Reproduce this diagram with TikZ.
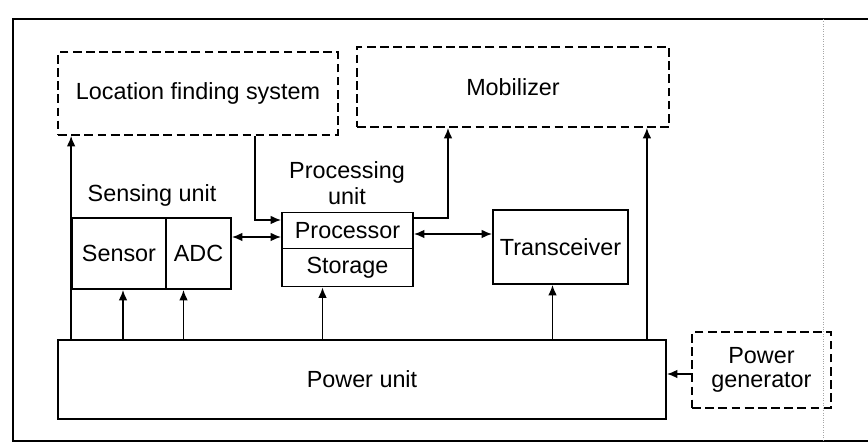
\documentclass[tikz,border=0pt]{standalone}
\usepackage{fontspec}
\setmainfont{Liberation Sans}
\usetikzlibrary{arrows.meta,positioning}

\begin{document}
\begin{tikzpicture}[
  unit/.style={rectangle, draw, line width=1pt, inner sep=2pt,
    font=\fontsize{13.3}{15}\selectfont},
  ext/.style={unit, dash pattern=on 5pt off 2.5pt},
  lbl/.style={font=\fontsize{13.3}{15}\selectfont, align=center, inner sep=0pt},
  arr/.style={-{Latex[length=6pt,width=5pt]}, line width=1pt},
  darr/.style={{Latex[length=6pt,width=5pt]}-{Latex[length=6pt,width=5pt]}, line width=1pt},
]
\useasboundingbox (0,0) rectangle (17.36,8.96);

% frame
\draw[line width=1.2pt] (17.36,8.58) -- (0.26,8.58) -- (0.26,0.14) -- (17.36,0.14);
\draw[black!35, densely dotted, line width=0.4pt] (16.46,8.58) -- (16.46,0.14);

% OUTSIDE UNITS (dashed)
\node[ext, minimum width=5.6cm, minimum height=1.66cm] (loc) at (3.96,7.09)
  {Location finding system};
\node[ext, minimum width=6.24cm, minimum height=1.6cm] (mob) at (10.26,7.22)
  {Mobilizer};
\node[ext, minimum width=2.78cm, minimum height=1.52cm, align=center,
  font=\fontsize{13.3}{14}\selectfont] (gen) at (15.23,1.56)
  {Power\\generator};

% SENSING UNIT
\node[unit, minimum width=1.88cm, minimum height=1.42cm] (sensor) at (2.38,3.89) {Sensor};
\node[unit, minimum width=1.3cm, minimum height=1.42cm, right=-1pt of sensor] (adc) {ADC};
\node[lbl] (senslbl) at (3.04,5.06) {Sensing unit};

% PROCESSING UNIT
\node[unit, minimum width=2.62cm, minimum height=0.72cm] (proc) at (6.95,4.35) {Processor};
\node[unit, minimum width=2.62cm, minimum height=0.76cm, below=-1pt of proc] (stor) {Storage};
\node[lbl] (proclbl) at (6.94,5.3) {Processing\\unit};

% TRANSCEIVER + POWER
\node[unit, minimum width=2.7cm, minimum height=1.48cm] (trans) at (11.21,4.02) {Transceiver};
\node[unit, minimum width=12.16cm, minimum height=1.58cm] (power) at (7.24,1.37) {Power unit};

% helper points
\coordinate (pa) at ([yshift=-1.3mm]proc.west);
\coordinate (pt) at ([yshift=-0.7mm]proc.east);
\coordinate (pg) at ([yshift=-0.8mm]gen.west);

% ARROWS
\draw[arr] (power.north -| sensor.west) -- (loc.south -| sensor.west);
\draw[arr] ([xshift=0.8mm]power.north -| sensor.south) -- ([xshift=0.8mm]sensor.south);
\draw[arr] ([xshift=-3mm]power.north -| adc.south) -- ([xshift=-3mm]adc.south);
\draw[arr] ([xshift=-5mm]power.north -| stor.south) -- ([xshift=-5mm]stor.south);
\draw[arr] ([xshift=-1.6mm]power.north -| trans.south) -- ([xshift=-1.6mm]trans.south);
\draw[arr] ([xshift=-4.6mm]power.north -| mob.south east) -- ([xshift=-4.6mm]mob.south east);
\draw[arr] (pg) -- (power.east |- pg);
\draw[arr] ([xshift=11.4mm]loc.south) |- ([yshift=2.1mm]proc.west);
\draw[arr] ([yshift=2.5mm]proc.east) -| ([xshift=-13mm]mob.south);
\draw[darr] (adc.east |- pa) -- (pa);
\draw[darr] (pt) -- (trans.west |- pt);
\end{tikzpicture}
\end{document}
